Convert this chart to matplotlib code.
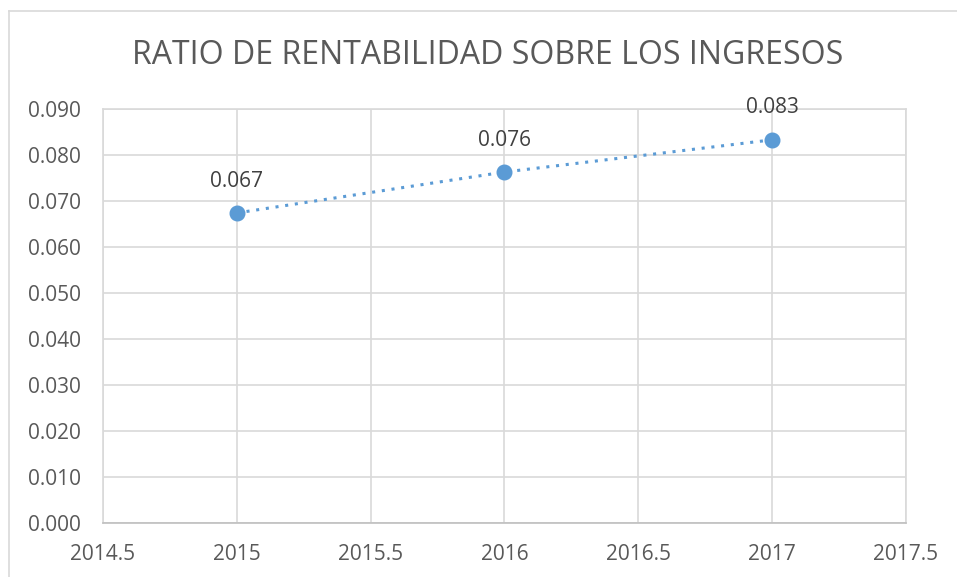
import matplotlib.pyplot as plt
from matplotlib.lines import Line2D

# datos
years = [2015, 2016, 2017]
ratio = [0.0674, 0.0763, 0.0833]
labels = ["0.067", "0.076", "0.083"]
xticks = [2014.5, 2015, 2015.5, 2016, 2016.5, 2017, 2017.5]
yticks = [0.0, 0.01, 0.02, 0.03, 0.04, 0.05, 0.06, 0.07, 0.08, 0.09]

TXT = "#595959"
GRID = "#d9d9d9"
BLUE = "#5b9bd5"

plt.rcParams["font.family"] = ["Open Sans", "DejaVu Sans"]

fig = plt.figure(figsize=(9.57, 5.77), dpi=100)
ax = fig.add_axes([103 / 957, 54 / 577, 803 / 957, 414 / 577])

# borde del área del gráfico (recortado a la derecha y abajo)
fig.add_artist(Line2D([8.5 / 957, 8.5 / 957], [0, 1 - 10.5 / 577],
                      transform=fig.transFigure, color=GRID, lw=1.2))
fig.add_artist(Line2D([8.5 / 957, 1], [1 - 10.5 / 577, 1 - 10.5 / 577],
                      transform=fig.transFigure, color=GRID, lw=1.2))

ax.plot(years, ratio, color=BLUE, linestyle=(0, (1, 2.2)), lw=2.2, zorder=3)
ax.plot(years, ratio, "o", color=BLUE, markersize=10.5, zorder=4)
for x, y, t in zip(years, ratio, labels):
    ax.annotate(t, (x, y), xytext=(0, 23), textcoords="offset points",
                ha="center", va="center", fontsize=15, color="#404040")

ax.set_xlim(2014.5, 2017.5)
ax.set_ylim(0, 0.09)
ax.set_xticks(xticks)
ax.set_xticklabels([f"{v:g}" for v in xticks])
ax.set_yticks(yticks)
ax.set_yticklabels([f"{v:.3f}" for v in yticks])
ax.grid(True, color=GRID, lw=1.2)
ax.set_axisbelow(True)
for s in ax.spines.values():
    s.set_color(GRID)
    s.set_linewidth(1.2)
ax.spines["bottom"].set_color("#bfbfbf")
ax.tick_params(length=0, labelsize=15, colors=TXT)
ax.tick_params(axis="x", pad=15)
ax.tick_params(axis="y", pad=16)

fig.text(488 / 957, 1 - 55 / 577, "RATIO DE RENTABILIDAD SOBRE LOS INGRESOS",
         ha="center", va="center", fontsize=23, color=TXT)

fig.savefig("out.png", dpi=100)
